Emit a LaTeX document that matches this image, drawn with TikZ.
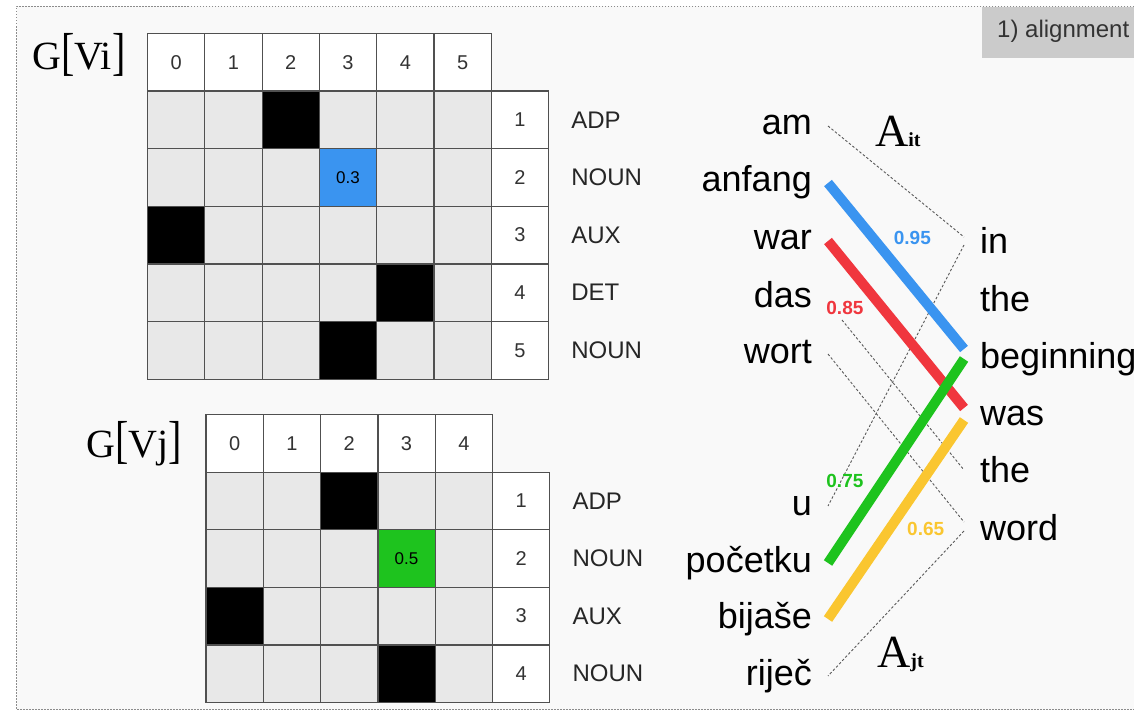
\documentclass[tikz,border=0pt]{standalone}
\usepackage{fontspec}
\setmainfont{Liberation Sans}
\newfontfamily\seriffont{Liberation Serif}
\usepackage{graphicx}
\usepackage{tikz}
\usetikzlibrary{positioning}

\newcommand\pxfont[1]{\fontsize{#1}{#1}\selectfont}

\definecolor{paper}{RGB}{249,249,249}
\definecolor{cellgray}{RGB}{232,232,232}
\definecolor{gridline}{RGB}{80,80,80}
\definecolor{tabgray}{RGB}{203,203,203}
\definecolor{alblue}{RGB}{58,148,240}
\definecolor{alred}{RGB}{240,54,62}
\definecolor{algreen}{RGB}{30,195,30}
\definecolor{alyellow}{RGB}{250,198,48}

\begin{document}
\begin{tikzpicture}[x=1pt, y=-1pt,
  gcell/.style={draw=gridline, line width=1.2pt, fill=cellgray, minimum width=57.3pt, minimum height=57.6pt, inner sep=0},
  hcell/.style={gcell, fill=white, font=\pxfont{20}, text=black!80},
  postag/.style={font=\pxfont{24}, inner sep=0, text=black!85},
  src/.style={font=\pxfont{36}, anchor=base east, inner xsep=16pt, inner ysep=0, text height=26pt, text depth=8pt},
  tgt/.style={src, anchor=base west},
  gname/.style={font=\seriffont\pxfont{40}, anchor=base west, inner sep=0},
  aname/.style={font=\seriffont\pxfont{46}, anchor=base west, inner sep=0},
  link/.style={line width=10pt},
  wt/.style={font=\bfseries\pxfont{19}, inner sep=0},
  dashlink/.style={draw=black!65, line width=0.9pt, dash pattern=on 2.5pt off 2pt}]
\useasboundingbox (0,0) rectangle (1134,711);
\fill[white] (0,0) rectangle (1134,711);
\fill[paper] (16.5,6.5) rectangle (1134,709.5);
\draw[black!45, line width=1pt, dash pattern=on 1.5pt off 1.5pt] (1140,6.5) -- (16.5,6.5) -- (16.5,709.5) -- (1140,709.5);
\fill[tabgray] (982,7) rectangle (1140,58);
\node[font=\pxfont{24}, anchor=base west, inner sep=0, text=black!80] (tab) at (997,38) {1) alignment};

% G[Vi]
\node[gname] (gvi) at (32,70) {G\scalebox{1}[1.3]{[}Vi\scalebox{1}[1.3]{]}};
\foreach \c in {0,...,5}
  \node[hcell] (vi-h\c) at ({176.15+57.3*\c}, 62.3) {\c};
\foreach \r in {1,...,5} {
  \foreach \c in {0,...,5}
    \node[gcell] (vi-\r-\c) at ({176.15+57.3*\c}, {62.3+57.6*\r}) {};
  \node[hcell] (vi-n\r) at (519.95, {62.3+57.6*\r}) {\r};
}
\foreach \r/\c in {1/2,3/0,4/4,5/3}
  \node[gcell, fill=black] (vi-k\r) at (vi-\r-\c) {};
\node[gcell, fill=alblue, font=\pxfont{17}] (vi-w) at (vi-2-3) {0.3};
\foreach \r/\t in {1/ADP,2/NOUN,3/AUX,4/DET,5/NOUN}
  \node[postag, right=22pt of vi-n\r] (vi-p\r) {\t};

% G[Vj]
\node[gname] (gvj) at (86,457) {G\scalebox{1}[1.3]{[}Vj\scalebox{1}[1.3]{]}};
\foreach \c in {0,...,4}
  \node[hcell] (vj-h\c) at ({234.65+57.3*\c}, 443.3) {\c};
\foreach \r in {1,...,4} {
  \foreach \c in {0,...,4}
    \node[gcell] (vj-\r-\c) at ({234.65+57.3*\c}, {443.3+57.6*\r}) {};
  \node[hcell] (vj-n\r) at (521.15, {443.3+57.6*\r}) {\r};
}
\foreach \r/\c in {1/2,3/0,4/3}
  \node[gcell, fill=black] (vj-k\r) at (vj-\r-\c) {};
\node[gcell, fill=algreen, font=\pxfont{17}] (vj-w) at (vj-2-3) {0.5};
\foreach \r/\t in {1/ADP,2/NOUN,3/AUX,4/NOUN}
  \node[postag, right=22pt of vj-n\r] (vj-p\r) {\t};

% sentences
\node[src] (am) at (828,135) {am};
\node[src] (anfang) at (828,192) {anfang};
\node[src] (war) at (828,250) {war};
\node[src] (das) at (828,307) {das};
\node[src] (wort) at (828,363) {wort};
\node[src] (u) at (828,515) {u};
\node[src] (pocetku) at (828,572) {početku};
\node[src] (bijase) at (828,628) {bijaše};
\node[src] (rijec) at (828,685) {riječ};
\node[tgt] (in) at (964,254) {in};
\node[tgt] (the1) at (964,311) {the};
\node[tgt] (beginning) at (964,368) {beginning};
\node[tgt] (was) at (964,425) {was};
\node[tgt] (the2) at (964,482) {the};
\node[tgt] (word) at (964,540) {word};
\node[aname] (ait) at (875,147) {A{\pxfont{20}\bfseries it}};
\node[aname] (ajt) at (877,667) {A{\pxfont{20}\bfseries jt}};

% alignments
\draw[dashlink] (am.east) -- ([yshift=8pt]in.west);
\draw[dashlink] (in.west) -- (u.east);
\draw[dashlink] ([shift={(14,22)}]das.east) -- ([yshift=3pt]the2.west);
\draw[dashlink] (wort.east) -- ([yshift=9pt]word.west);
\draw[dashlink] (word.west) -- (rijec.east);
\draw[link, alblue] (anfang.east) -- node[wt, text=alblue, pos=0.33, right=16pt] (w95) {0.95} ([yshift=10pt]beginning.west);
\draw[link, alred] (war.east) -- node[wt, text=alred, pos=0.4, left=14pt] (w85) {0.85} ([yshift=8pt]was.west);
\draw[link, algreen] (pocetku.east) -- node[wt, text=algreen, pos=0.4, left=14pt] (w75) {0.75} (beginning.west);
\draw[link, alyellow] (bijase.east) -- node[wt, text=alyellow, pos=0.45, right=13pt] (w65) {0.65} ([yshift=-4pt]was.west);
\end{tikzpicture}
\end{document}
